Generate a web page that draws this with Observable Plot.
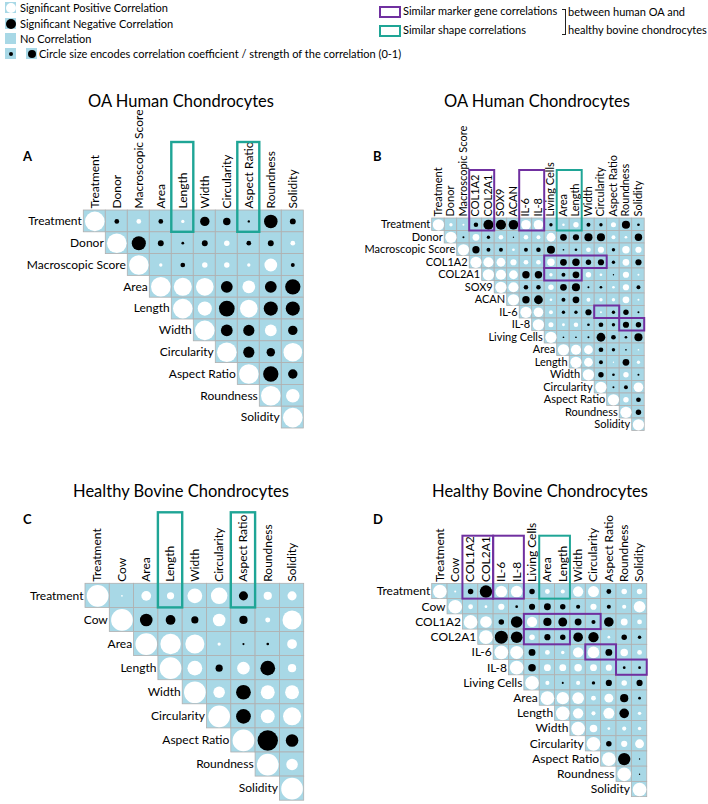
<!DOCTYPE html>
<html><head><meta charset="utf-8">
<script src="https://cdn.jsdelivr.net/npm/d3@7"></script>
<script src="https://cdn.jsdelivr.net/npm/@observablehq/plot@0.6"></script>
<style>
body{margin:0;background:#fff;font-family:Lato,"Open Sans",sans-serif;color:#000;}
#fig{position:relative;width:708px;height:804px;overflow:hidden;background:#fff;}
.abs{position:absolute;white-space:nowrap;}
.sw{position:absolute;width:11px;height:11px;background:#a8d8e6;}
.sw i{position:absolute;border-radius:50%;left:50%;top:50%;transform:translate(-50%,-50%);}
.lt{position:absolute;white-space:nowrap;font-size:11px;line-height:14px;transform:translateY(-50%);}
.title{position:absolute;white-space:nowrap;font-size:16.5px;transform:translate(-50%,-50%);line-height:20px;}
.letter{position:absolute;font-weight:bold;font-size:13px;line-height:14px;}
.panel{position:absolute;}
</style></head><body><div id="fig"></div>
<script>
// ---------- data ----------
const varsA = ["Treatment","Donor","Macroscopic Score","Area","Length","Width","Circularity","Aspect Ratio","Roundness","Solidity"];
const corrA = [
  [-0.24, 0.24, -0.24, 0.17, -0.48, -0.38, -0.12, -0.69, -0.3],
  [-0.72, -0.3, -0.14, -0.3, 0.28, -0.24, -0.3, 0.24],
  [0.17, -0.24, 0.28, 0.28, 0.17, 0.65, -0.2],
  [0.92, 0.9, -0.6, 0.65, -0.6, -0.78],
  [0.72, -0.8, 0.9, -0.72, -0.72],
  [-0.6, -0.57, 0.6, -0.48],
  [-0.57, -0.43, 0.95],
  [-0.78, -0.48],
  [0.69],
  []
];
const headBoxesA = [{c1:4,c2:4,kind:"shape"},{c1:7,c2:7,kind:"shape"}];
const rowBoxesA = [];

const varsB = ["Treatment","Donor","Macroscopic Score","COL1A2","COL2A1","SOX9","ACAN","IL-6","IL-8","Living Cells","Area","Length","Width","Circularity","Aspect Ratio","Roundness","Solidity"];
const corrB = [
  [0.3, 0.18, -0.4, -0.9, -0.9, -0.85, 0.85, 0.85, -0.3, 0.22, 0.48, -0.35, -0.3, 0.45, -0.72, -0.24],
  [-0.18, 0.6, -0.3, 0.4, -0.12, 0.4, 0.35, 0.78, -0.6, -0.55, -0.72, -0.72, 0.35, 0.24, -0.66],
  [-0.65, -0.35, -0.35, 0.24, -0.35, -0.4, -0.72, -0.15, -0.24, 0.42, 0.55, -0.3, 0.66, 0.55],
  [0.9, 0.78, 0.55, 0.42, 0.42, 0.66, -0.6, -0.66, -0.48, -0.55, -0.3, 0.6, -0.55],
  [0.9, 0.78, -0.66, -0.66, 0.3, -0.35, -0.6, 0.48, 0.24, -0.12, 0.55, 0.18],
  [0.9, -0.4, -0.4, 0.48, -0.6, -0.72, -0.18, -0.24, 0.24, 0.55, -0.35],
  [-0.66, -0.78, 0.24, -0.35, -0.6, 0.35, 0.3, 0.3, 0.6, 0.18],
  [0.85, 0.35, -0.3, -0.3, -0.55, 0.18, -0.3, -0.48, -0.18],
  [0.45, 0.25, 0.4, -0.24, -0.42, -0.3, -0.55, -0.48],
  [-0.15, -0.15, -0.18, -0.78, -0.42, -0.24, -0.72],
  [0.9, 0.78, -0.42, -0.3, -0.15, 0.15],
  [0.78, -0.35, 0.12, -0.6, 0.3],
  [-0.48, -0.24, 0.48, -0.18],
  [-0.18, -0.35, 0.85],
  [0.48, -0.42],
  [-0.48],
  []
];
const headBoxesB = [{c1:3,c2:4,kind:"marker"},{c1:7,c2:8,kind:"marker"},{c1:10,c2:11,kind:"shape"}];
const rowBoxesB = [{r:3,c1:9,c2:13,kind:"marker"},{r:4,c1:9,c2:11,kind:"marker"},{r:7,c1:13,c2:14,kind:"marker"},{r:8,c1:15,c2:16,kind:"marker"}];

const varsC = ["Treatment","Cow","Area","Length","Width","Circularity","Aspect Ratio","Roundness","Solidity"];
const corrC = [
  [0.08, 0.45, 0.33, 0.68, 0.76, -0.42, 0.38, 0.42],
  [-0.58, -0.45, -0.33, 0.58, -0.38, 0.23, 0.88],
  [0.94, 0.88, 0.15, -0.1, -0.12, 0.45],
  [0.68, -0.33, 0.58, -0.68, 0.38],
  [0.53, -0.68, 0.64, 0.64],
  [-0.68, 0.64, 0.83],
  [-0.94, -0.58],
  [0.53],
  []
];
const headBoxesC = [{c1:3,c2:3,kind:"shape"},{c1:6,c2:6,kind:"shape"}];
const rowBoxesC = [];

const varsD = ["Treatment","Cow","COL1A2","COL2A1","IL-6","IL-8","Living Cells","Area","Length","Width","Circularity","Aspect Ratio","Roundness","Solidity"];
const corrD = [
  [0.15, -0.4, -0.9, 0.85, 0.85, -0.4, 0.35, 0.3, 0.75, 0.8, -0.35, 0.4, 0.4],
  [0.35, 0.2, 0.45, -0.2, -0.45, -0.5, -0.4, -0.3, 0.45, -0.3, 0.3, 0.85],
  [0.85, -0.4, -0.85, 0.75, -0.6, -0.65, -0.5, -0.3, -0.7, 0.5, 0.35],
  [-0.95, -0.85, 0.4, -0.45, -0.4, -0.7, -0.75, 0.2, -0.4, -0.25],
  [0.95, -0.5, 0.35, 0.25, 0.75, 0.85, -0.5, 0.55, 0.35],
  [-0.55, 0.5, 0.5, 0.55, 0.5, 0.45, -0.2, -0.2],
  [0.3, -0.15, 0.3, -0.25, -0.45, 0.4, -0.45],
  [0.9, 0.85, 0.35, 0.65, -0.6, -0.2],
  [0.75, 0.3, 0.8, -0.7, 0.25],
  [0.55, 0.2, 0.3, 0.25],
  [-0.4, 0.45, 0.65],
  [-0.9, -0.1],
  [-0.1],
  []
];
const headBoxesD = [{c1:2,c2:3,kind:"marker"},{c1:4,c2:5,kind:"marker"},{c1:7,c2:8,kind:"shape"}];
const rowBoxesD = [{r:2,c1:6,c2:10,kind:"marker"},{r:3,c1:6,c2:8,kind:"marker"},{r:4,c1:10,c2:11,kind:"marker"},{r:5,c1:12,c2:13,kind:"marker"}];

const titleOA = "OA Human Chondrocytes";
const titleBov = "Healthy Bovine Chondrocytes";

// ---------- styles ----------
const BLUE = "#a8d8e6", GRID = "#b0b0b0", PURPLE = "#7030a0", TEAL = "#1fa596";
const FONT = "Lato, 'Open Sans', sans-serif";
const fig = document.getElementById("fig");

function add(html){ fig.insertAdjacentHTML("beforeend", html); }

// legend (left)
add(`<div class="sw" style="left:5px;top:2px"><i style="width:10px;height:10px;background:#fff"></i></div>
<div class="lt" style="left:20px;top:8px">Significant Positive Correlation</div>
<div class="sw" style="left:5px;top:18px"><i style="width:10px;height:10px;background:#000"></i></div>
<div class="lt" style="left:20px;top:24px">Significant Negative Correlation</div>
<div class="sw" style="left:5px;top:33px"></div>
<div class="lt" style="left:20px;top:39px">No Correlation</div>
<div class="sw" style="left:5px;top:48px"><i style="width:4px;height:4px;background:#000"></i></div>
<div class="sw" style="left:26px;top:48px"><i style="width:8px;height:8px;background:#000"></i></div>
<div class="lt" style="left:39px;top:54px">Circle size encodes correlation coefficient / strength of the correlation (0-1)</div>`);
// legend (right)
add(`<div class="abs" style="left:379px;top:6px;width:18px;height:8px;border:2px solid ${PURPLE}"></div>
<div class="lt" style="left:403px;top:11px">Similar marker gene correlations</div>
<div class="abs" style="left:379px;top:25px;width:18px;height:8px;border:2px solid ${TEAL}"></div>
<div class="lt" style="left:403px;top:30px">Similar shape correlations</div>
<div class="abs" style="left:562px;top:9px;width:3px;height:24px;border:1px solid #222;border-left:none"></div>
<div class="lt" style="left:568px;top:12px">between human OA and</div>
<div class="lt" style="left:568px;top:30px">healthy bovine chondrocytes</div>`);

// titles and letters
add(`<div class="title" style="left:181px;top:101px">${titleOA}</div>
<div class="title" style="left:537px;top:101px">${titleOA}</div>
<div class="title" style="left:181px;top:491px">${titleBov}</div>
<div class="title" style="left:540px;top:491px">${titleBov}</div>
<div class="letter" style="left:23px;top:149px">A</div>
<div class="letter" style="left:373px;top:149px">B</div>
<div class="letter" style="left:23px;top:512px">C</div>
<div class="letter" style="left:373px;top:512px">D</div>`);

function panel(vars, corr, headBoxes, rowBoxes, g) {
  const n = vars.length;
  const cells = [];
  for (let i = 0; i < n; i++) {
    cells.push({i, j: i, v: 1});
    corr[i].forEach((v, k) => cells.push({i, j: i + 1 + k, v}));
  }
  const boxes = [
    ...headBoxes.map(b => ({x1: b.c1, x2: b.c2 + 1, y1: -g.boxTop / g.cellH, y2: 1, kind: b.kind})),
    ...rowBoxes.map(b => ({x1: b.c1, x2: b.c2 + 1, y1: b.r, y2: b.r + 1, kind: b.kind}))
  ];
  const x0 = g.left - g.svgLeft, y0 = g.top - g.svgTop;
  const svg = Plot.plot({
    width: g.svgW, height: g.svgH,
    marginLeft: 0, marginRight: 0, marginTop: 0, marginBottom: 0,
    x: {domain: [0, n], range: [x0, x0 + n * g.cellW], axis: null},
    y: {domain: [0, n], range: [y0, y0 + n * g.cellH], axis: null},
    r: {type: "linear", domain: [0, 1], range: [0, Math.min(g.cellW, g.cellH) * 0.45]},
    color: {type: "identity"},
    style: {background: "transparent", fontFamily: FONT, overflow: "visible"},
    marks: [
      Plot.rect(cells, {x1: "j", x2: d => d.j + 1, y1: "i", y2: d => d.i + 1, fill: BLUE, stroke: GRID, strokeWidth: 0.8}),
      Plot.dot(cells, {x: d => d.j + 0.5, y: d => d.i + 0.5, r: d => Math.abs(d.v), fill: d => d.v > 0 ? "#ffffff" : "#000000"}),
      Plot.text(vars, {x: (d, i) => i, y: (d, i) => i + 0.5, text: d => d, textAnchor: "end", dx: -2, fill: "#000", fontSize: g.fs, fontFamily: FONT}),
      Plot.text(vars, {x: (d, i) => i + 0.5, y: () => 0, text: d => d, rotate: -90, textAnchor: "start", lineAnchor: "middle", dy: -2, fill: "#000", fontSize: g.fs, fontFamily: FONT}),
      Plot.rect(boxes, {x1: "x1", x2: "x2", y1: "y1", y2: "y2", fill: "none", stroke: d => d.kind === "marker" ? PURPLE : TEAL, strokeWidth: g.bw})
    ]
  });
  const wrap = document.createElement("div");
  wrap.className = "panel";
  wrap.style.left = g.svgLeft + "px";
  wrap.style.top = g.svgTop + "px";
  wrap.appendChild(svg);
  fig.appendChild(wrap);
}

panel(varsA, corrA, headBoxesA, rowBoxesA, {left: 83.3, top: 210, cellW: 22, cellH: 21.8, boxTop: 68, svgLeft: 0, svgTop: 112, svgW: 354, svgH: 330, fs: 12, bw: 2.4});
panel(varsB, corrB, headBoxesB, rowBoxesB, {left: 431.7, top: 218, cellW: 12.5, cellH: 12.5, boxTop: 48, svgLeft: 354, svgTop: 112, svgW: 354, svgH: 330, fs: 11, bw: 2});
panel(varsC, corrC, headBoxesC, rowBoxesC, {left: 85, top: 583.3, cellW: 24.3, cellH: 24.1, boxTop: 71, svgLeft: 0, svgTop: 500, svgW: 354, svgH: 304, fs: 12, bw: 2.4});
panel(varsD, corrD, headBoxesD, rowBoxesD, {left: 431.7, top: 583.4, cellW: 15.36, cellH: 15.23, boxTop: 47.7, svgLeft: 354, svgTop: 500, svgW: 354, svgH: 304, fs: 12, bw: 2});
</script></body></html>
